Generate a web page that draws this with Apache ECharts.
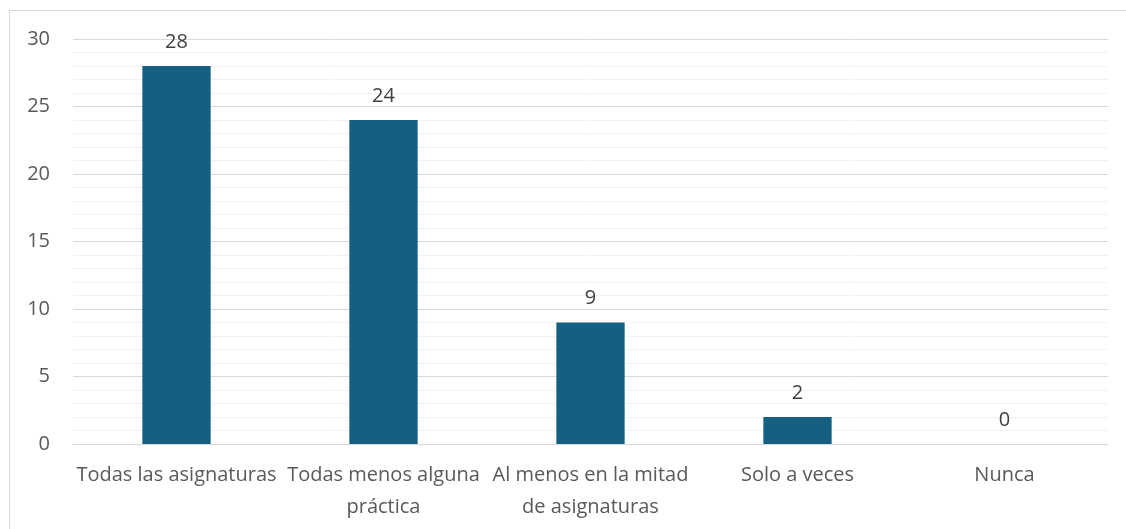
<!DOCTYPE html>
<html>
<head>
<meta charset="utf-8">
<script src="https://cdn.jsdelivr.net/npm/echarts@6/dist/echarts.min.js"></script>
<style>
  html, body { margin: 0; padding: 0; background: #fff; }
  #frame { position: absolute; left: 9px; top: 10px; width: 1200px; height: 600px; border: 1px solid #d9d9d9; box-sizing: border-box; }
  #chart { position: absolute; left: 0; top: 0; width: 1126px; height: 529px; }
</style>
</head>
<body>
<div id="frame"></div>
<div id="chart"></div>
<script>
const categories = [
  'Todas las asignaturas',
  'Todas menos alguna\npráctica',
  'Al menos en la mitad\nde asignaturas',
  'Solo a veces',
  'Nunca'
]
const counts = [28, 24, 9, 2, 0]

const FONT = '"Open Sans", sans-serif'
const chart = echarts.init(document.getElementById('chart'), null, { renderer: 'canvas' })

chart.setOption({
  animation: false,
  grid: { left: 73, right: 18, top: 39, bottom: 85, containLabel: false },
  xAxis: {
    type: 'category',
    data: categories,
    axisLine: { show: true, lineStyle: { color: '#d9d9d9', width: 1 } },
    axisTick: { show: false },
    axisLabel: {
      interval: 0,
      color: '#595959',
      fontFamily: FONT,
      fontSize: 20,
      lineHeight: 32,
      margin: 15
    }
  },
  yAxis: {
    type: 'value',
    min: 0,
    max: 30,
    interval: 5,
    axisLine: { show: false },
    axisTick: { show: false },
    axisLabel: { color: '#595959', fontFamily: FONT, fontSize: 20, margin: 23 },
    splitLine: { lineStyle: { color: '#d9d9d9', width: 1 } },
    minorTick: { show: false, splitNumber: 5 },
    minorSplitLine: { show: true, lineStyle: { color: '#f2f2f2', width: 1 } }
  },
  series: [{
    type: 'bar',
    data: counts,
    barWidth: '33%',
    itemStyle: { color: '#156082' },
    label: {
      show: true,
      position: 'top',
      distance: 14,
      color: '#404040',
      fontFamily: FONT,
      fontSize: 20
    }
  }]
})
</script>
</body>
</html>
